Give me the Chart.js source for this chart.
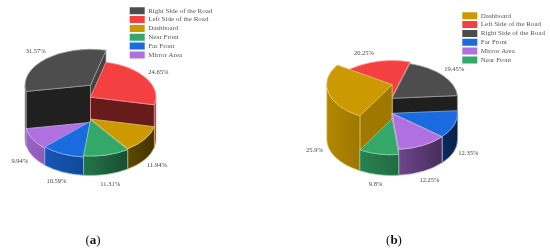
<!DOCTYPE html>
<html>
<head>
<meta charset="utf-8">
<script src="https://cdn.jsdelivr.net/npm/chart.js@4/dist/chart.umd.js"></script>
<style>
html,body{margin:0;padding:0;background:#fff;overflow:hidden}
#wrap{position:relative;width:550px;height:251px;filter:blur(0.3px)}
canvas{position:absolute;top:0}
.cap{position:absolute;top:232px;width:40px;text-align:center;font:13px "Liberation Serif",serif;color:#111}
</style>
</head>
<body>
<div id="wrap">
<canvas id="a" width="275" height="251" style="left:0"></canvas>
<canvas id="b" width="275" height="251" style="left:275px"></canvas>
<div class="cap" style="left:73px">(<b>a</b>)</div>
<div class="cap" style="left:374px">(<b>b</b>)</div>
</div>
<script>
const categoriesA = ['Right Side of the Road','Left Side of the Road','Dashboard','Near Front','Far Front','Mirror Area'];
const valuesA = [31.57,24.65,11.94,11.31,10.59,9.94];
const categoriesB = ['Dashboard','Left Side of the Road','Right Side of the Road','Far Front','Mirror Area','Near Front'];
const valuesB = [25.9,20.25,19.45,12.35,12.25,9.8];
const palette = {
  'Right Side of the Road':[77,77,77],
  'Left Side of the Road':[244,64,64],
  'Dashboard':[204,154,0],
  'Near Front':[51,168,104],
  'Far Front':[26,106,224],
  'Mirror Area':[176,112,224]
};
const SQUASH = 0.55, RADIUS = 65.4, LABEL_RX = 80, LABEL_RY = 46;
const rgb = (c,k=1)=>`rgb(${c.map(v=>Math.round(v*k)).join(',')})`;
const tint = (c,t)=>`rgb(${c.map(v=>Math.round(v+(255-v)*t)).join(',')})`;

const pie3d = {
  id:'pie3d',
  afterLayout(chart,args,o){
    const l = chart.legend; if(!l) return;
    l.left=o.legendX; l.top=o.legendY; l.right=o.legendX+130; l.bottom=o.legendY+80;
  },
  beforeDatasetDraw(chart,args,o){
    const ctx = chart.ctx, ds = chart.data.datasets[0], meta = args.meta;
    const items = meta.data.map((arc,i)=>{
      const p = arc.getProps(['x','y','startAngle','endAngle','outerRadius'],true);
      const mid=(p.startAngle+p.endAngle)/2;
      return {arc,i,p,mid,h:ds.data[i]*o.heightPerPercent,col:palette[chart.data.labels[i]]};
    }).sort((u,v)=>Math.sin(u.mid)-Math.sin(v.mid));
    for(const it of items){
      const {p,h,col} = it, R=p.outerRadius, Ry=R*SQUASH, cx=p.x, by=p.y, ty=by-h;
      ctx.save();
      ctx.lineWidth=0.7; ctx.lineJoin='round';
      ctx.strokeStyle=tint(col,0.45);
      const faces=[[p.startAngle,-Math.cos(p.startAngle)],[p.endAngle,Math.cos(p.endAngle)]];
      for(const [t,facing] of faces){
        if(facing<=0) continue;
        const s2=Math.sin(t)*Math.sin(t);
        ctx.fillStyle=rgb(col,0.4+0.5*s2);
        const ex=cx+R*Math.cos(t), ey=Ry*Math.sin(t);
        ctx.beginPath();
        ctx.moveTo(cx,ty);ctx.lineTo(ex,ty+ey);ctx.lineTo(ex,by+ey);ctx.lineTo(cx,by);ctx.closePath();
        ctx.fill();ctx.stroke();
      }
      const g=ctx.createLinearGradient(cx-R,0,cx+R,0);
      g.addColorStop(0,rgb(col,0.88));g.addColorStop(0.5,rgb(col,0.66));g.addColorStop(1,rgb(col,0.32));
      ctx.fillStyle=g;
      for(let k=-1;k<=2;k++){
        const s=Math.max(p.startAngle,2*Math.PI*k), e=Math.min(p.endAngle,2*Math.PI*k+Math.PI);
        if(e<=s) continue;
        ctx.beginPath();
        ctx.ellipse(cx,ty,R,Ry,0,s,e);
        ctx.ellipse(cx,by,R,Ry,0,e,s,true);
        ctx.closePath();
        ctx.fill();ctx.stroke();
      }
      ctx.translate(cx,ty);ctx.scale(1,SQUASH);ctx.translate(-cx,-by);
      it.arc.draw(ctx);
      ctx.restore();
    }
    ctx.save();
    ctx.font='6.5px "Liberation Serif",serif';
    ctx.fillStyle='#444';ctx.textAlign='center';ctx.textBaseline='middle';
    for(const it of items){
      const dx=Math.cos(it.mid), dy=Math.sin(it.mid);
      ctx.fillText(ds.data[it.i]+'%',it.p.x+dx*LABEL_RX,it.p.y+dy*LABEL_RY-(dy<0?it.h:0));
    }
    ctx.restore();
    return false;
  }
};

function build(id,labels,values,rotation,k,padRight,legendX,legendY){
  new Chart(document.getElementById(id),{
    type:'pie',
    data:{labels,datasets:[{
      data:values,
      backgroundColor:labels.map(n=>rgb(palette[n])),
      borderColor:labels.map(n=>tint(palette[n],0.45)),
      borderWidth:1
    }]},
    options:{
      responsive:false,animation:false,
      rotation,radius:RADIUS,
      layout:{padding:{top:28,left:0,right:padRight,bottom:0}},
      plugins:{
        tooltip:{enabled:false},
        pie3d:{heightPerPercent:k,legendX,legendY},
        legend:{
          position:'chartArea',align:'start',fullSize:false,
          labels:{
            boxWidth:15,boxHeight:7,padding:1.85,color:'#555',
            font:{family:'"Liberation Serif",serif',size:7},
            generateLabels(c){
              return Chart.overrides.pie.plugins.legend.labels.generateLabels(c).map(x=>({...x,lineWidth:0}));
            }
          }
        }
      }
    },
    plugins:[pie3d]
  });
}
build('a',categoriesA,valuesA,-100,1.72,94,127.85,5.35);
build('b',categoriesB,valuesB,209.6,2.12,40.6,185.45,10.35);
</script>
</body>
</html>
